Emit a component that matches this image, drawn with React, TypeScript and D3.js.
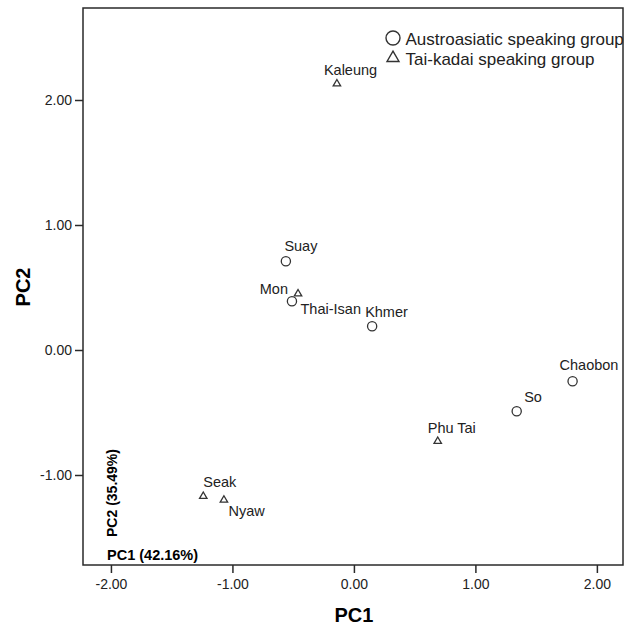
import React, { useEffect, useRef } from "react";
import * as d3 from "d3";

// population names and their scores on the first two components
const names = ["Kaleung", "Suay", "Mon", "Thai-Isan", "Khmer", "Chaobon", "So", "Phu Tai", "Seak", "Nyaw"];
const pc1 = [-0.14, -0.56, -0.51, -0.46, 0.15, 1.8, 1.34, 0.69, -1.24, -1.07];
const pc2 = [2.13, 0.71, 0.39, 0.45, 0.19, -0.25, -0.49, -0.73, -1.17, -1.2];
const groups = ["Tai-kadai", "Austroasiatic", "Austroasiatic", "Tai-kadai", "Austroasiatic", "Austroasiatic", "Austroasiatic", "Tai-kadai", "Tai-kadai", "Tai-kadai"];

const xTicks = [-2, -1, 0, 1, 2];
const yTicks = [-1, 0, 1, 2];
const legendItems = ["Austroasiatic speaking group", "Tai-kadai speaking group"];

// where each label sits relative to its marker (like spss does it)
const labelPlace = [
  { dx: -13, dy: -8.5, anchor: "start" },
  { dx: -1.5, dy: -10, anchor: "start" },
  { dx: -4, dy: -7.5, anchor: "end" },
  { dx: 2.5, dy: 20.5, anchor: "start" },
  { dx: -7, dy: -9.5, anchor: "start" },
  { dx: -13, dy: -11.5, anchor: "start" },
  { dx: 7.5, dy: -9, anchor: "start" },
  { dx: -10, dy: -8, anchor: "start" },
  { dx: 0, dy: -9, anchor: "start" },
  { dx: 4.5, dy: 16, anchor: "start" },
];

const FONT = "'Liberation Sans', Arial, sans-serif";
// plain hyphen for negatives, the way spss prints them
const fmt = d3.formatLocale({ decimal: ".", thousands: ",", grouping: [3], currency: ["", ""], minus: "-" }).format(".2f");

export default function App() {
  const ref = useRef<SVGSVGElement>(null);

  useEffect(() => {
    const width = 625;
    const height = 626;
    const box = { left: 83, right: 623, top: 8, bottom: 565 };

    const svg = d3.select(ref.current).attr("width", width).attr("height", height);
    svg.selectAll("*").remove();

    const x = d3.scaleLinear().domain([-2.23, 2.215]).range([box.left, box.right]);
    const y = d3.scaleLinear().domain([-1.72, 2.736]).range([box.bottom, box.top]);

    svg.append("rect").attr("width", width).attr("height", height).attr("fill", "#fff");

    // frame
    svg.append("rect")
      .attr("x", box.left).attr("y", box.top)
      .attr("width", box.right - box.left).attr("height", box.bottom - box.top)
      .attr("fill", "none").attr("stroke", "#2a2a2a").attr("stroke-width", 1.5);

    // x axis
    const xg = svg.append("g").attr("transform", `translate(0,${box.bottom})`)
      .call(d3.axisBottom(x).tickValues(xTicks).tickSize(8).tickPadding(6).tickFormat(d => fmt(d as number)));
    xg.select(".domain").remove();
    xg.selectAll("line").attr("stroke", "#2a2a2a").attr("stroke-width", 1.5);
    xg.selectAll("text").attr("font-family", FONT).attr("font-size", 14).attr("fill", "#222");

    // y axis
    const yg = svg.append("g").attr("transform", `translate(${box.left},0)`)
      .call(d3.axisLeft(y).tickValues(yTicks).tickSize(8).tickPadding(3).tickFormat(d => fmt(d as number)));
    yg.select(".domain").remove();
    yg.selectAll("line").attr("stroke", "#2a2a2a").attr("stroke-width", 1.5);
    yg.selectAll("text").attr("font-family", FONT).attr("font-size", 14).attr("fill", "#222");

    // axis titles
    svg.append("text")
      .attr("x", x(0)).attr("y", 622)
      .attr("text-anchor", "middle")
      .attr("font-family", FONT).attr("font-size", 20).attr("font-weight", "bold")
      .text("PC1");
    svg.append("text")
      .attr("transform", `translate(30,${287}) rotate(-90)`)
      .attr("text-anchor", "middle")
      .attr("font-family", FONT).attr("font-size", 20).attr("font-weight", "bold")
      .text("PC2");

    // the variance notes inside the plot
    svg.append("text")
      .attr("transform", `translate(117,${493}) rotate(-90)`)
      .attr("text-anchor", "middle")
      .attr("font-family", FONT).attr("font-size", 14).attr("font-weight", "bold")
      .text("PC2 (35.49%)");
    svg.append("text")
      .attr("x", 107).attr("y", 560)
      .attr("font-family", FONT).attr("font-size", 14.5).attr("font-weight", "bold")
      .text("PC1 (42.16%)");

    const tri = d3.symbol().type(d3.symbolTriangle);
    const data = names.map((n, i) => ({ name: n, pc1: pc1[i], pc2: pc2[i], group: groups[i], place: labelPlace[i] }));

    const pts = svg.append("g");
    pts.selectAll("circle")
      .data(data.filter(d => d.group === "Austroasiatic"))
      .join("circle")
      .attr("cx", d => x(d.pc1)).attr("cy", d => y(d.pc2))
      .attr("r", 4.6)
      .attr("fill", "none").attr("stroke", "#333").attr("stroke-width", 1.3);
    pts.selectAll("path")
      .data(data.filter(d => d.group === "Tai-kadai"))
      .join("path")
      .attr("transform", d => `translate(${x(d.pc1)},${y(d.pc2)})`)
      .attr("d", tri.size(24)())
      .attr("fill", "none").attr("stroke", "#333").attr("stroke-width", 1.3);

    svg.append("g").selectAll("text")
      .data(data)
      .join("text")
      .attr("x", d => x(d.pc1) + d.place.dx)
      .attr("y", d => y(d.pc2) + d.place.dy)
      .attr("text-anchor", d => d.place.anchor)
      .attr("font-family", FONT).attr("font-size", 14.5).attr("fill", "#222")
      .text(d => d.name);

    // legend
    const lg = svg.append("g").attr("transform", "translate(393,38)");
    lg.append("circle").attr("cx", 0).attr("cy", 0).attr("r", 7)
      .attr("fill", "none").attr("stroke", "#333").attr("stroke-width", 1.4);
    lg.append("path").attr("transform", "translate(0,20)")
      .attr("d", d3.symbol().type(d3.symbolTriangle).size(62)())
      .attr("fill", "none").attr("stroke", "#333").attr("stroke-width", 1.4);
    lg.selectAll("text.leg")
      .data(legendItems)
      .join("text")
      .attr("class", "leg")
      .attr("x", 12.5)
      .attr("y", (d, i) => 6.5 + i * 20)
      .attr("font-family", FONT).attr("font-size", 17).attr("fill", "#222")
      .text(d => d);
  }, []);

  return (
    <div style={{ position: "absolute", left: 0, top: 0 }}>
      <svg ref={ref} style={{ display: "block" }}></svg>
    </div>
  );
}
